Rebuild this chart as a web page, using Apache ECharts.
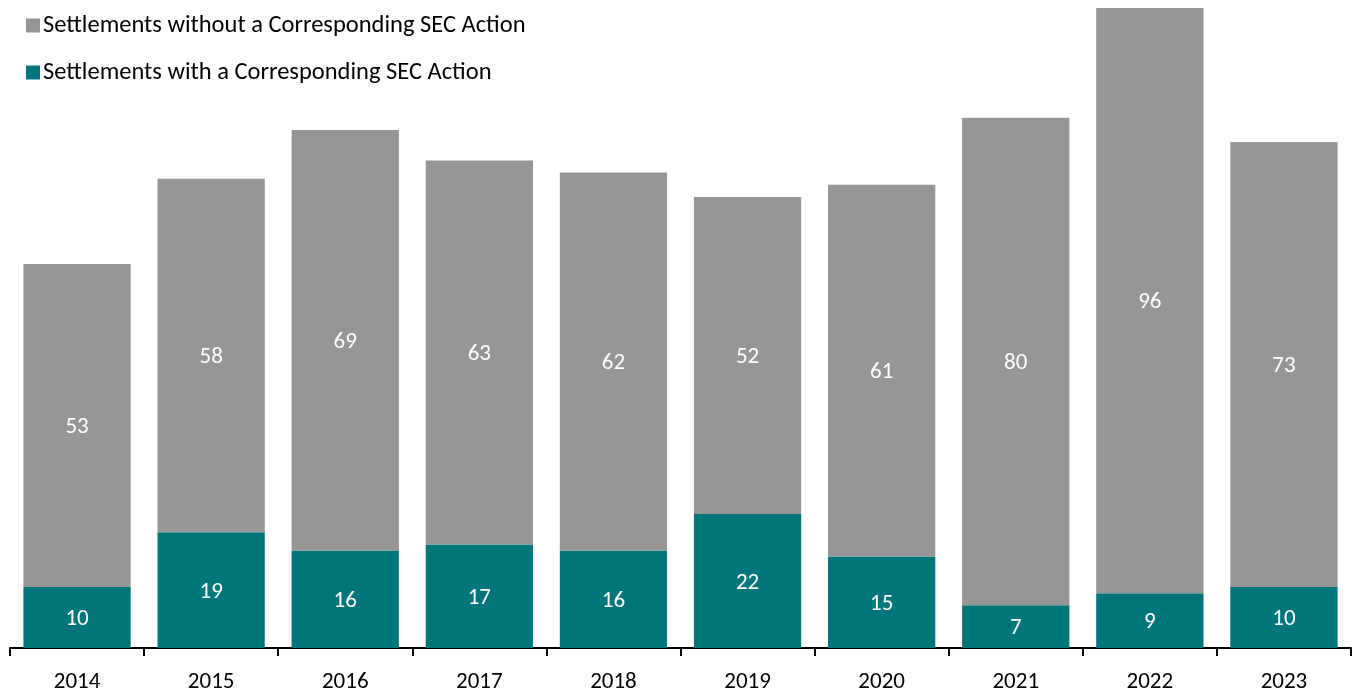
<!DOCTYPE html>
<html><head><meta charset="utf-8">
<script src="https://cdn.jsdelivr.net/npm/echarts@6/dist/echarts.min.js"></script>
<style>html,body{margin:0;padding:0;background:#fff}#c{width:1354px;height:690px}</style>
</head><body><div id="c"></div>
<script>
const categories = ['2014','2015','2016','2017','2018','2019','2020','2021','2022','2023'];
const withSEC = [10,19,16,17,16,22,15,7,9,10];
const withoutSEC = [53,58,69,63,62,52,61,80,96,73];
const seriesNames = ['Settlements without a Corresponding SEC Action','Settlements with a Corresponding SEC Action'];

const chart = echarts.init(document.getElementById('c'));
const font = 'Carlito, Calibri, Lato, sans-serif';
chart.setOption({
  animation:false,
  textStyle:{fontFamily:font},
  legend:{
    orient:'vertical', left:21, top:8, itemGap:22,
    itemWidth:14, itemHeight:14, icon:'rect',
    data:[seriesNames[0], seriesNames[1]],
    textStyle:{fontSize:24.5, color:'#000', fontFamily:font, padding:[0,0,0,-2]}
  },
  grid:{left:10, right:3, top:8, bottom:42, containLabel:false, outerBoundsMode:'none'},
  xAxis:{
    type:'category', data:categories,
    axisLine:{lineStyle:{color:'#000', width:2}},
    axisTick:{show:true, length:8, lineStyle:{color:'#000', width:2}},
    axisLabel:{fontSize:23, color:'#000', margin:23, fontFamily:font}
  },
  yAxis:{type:'value', min:0, max:105, show:false, splitLine:{show:false}},
  series:[
    {name:seriesNames[1], type:'bar', stack:'s', data:withSEC, barCategoryGap:'20%',
     itemStyle:{color:'#00767B'},
     label:{show:true, position:'inside', offset:[0,2], color:'#fff', fontSize:23, fontFamily:font}},
    {name:seriesNames[0], type:'bar', stack:'s', data:withoutSEC,
     itemStyle:{color:'#969696'},
     label:{show:true, position:'inside', offset:[0,2], color:'#fff', fontSize:23, fontFamily:font}}
  ]
});
</script></body></html>
